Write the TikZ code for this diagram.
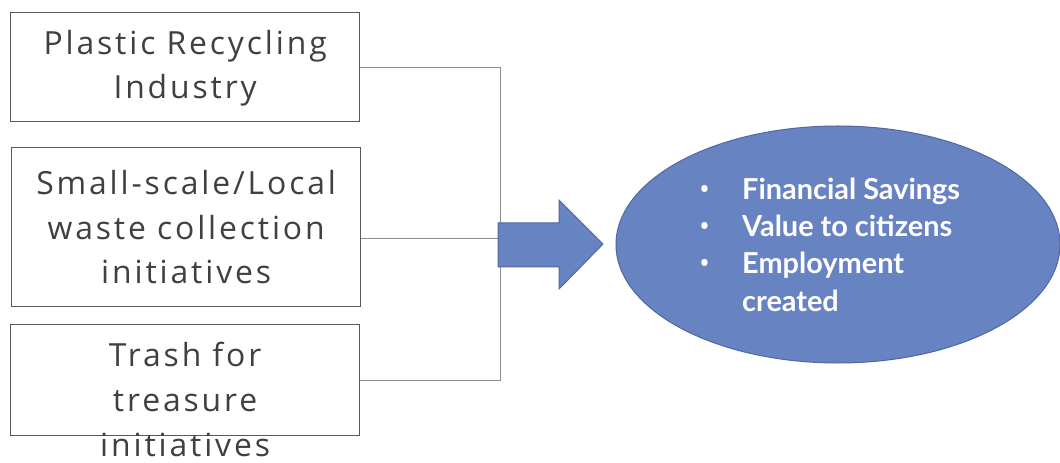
\documentclass[tikz,border=0pt]{standalone}
\usepackage{fontspec}
\setmainfont{Open Sans}
\newfontfamily\boxfont[LetterSpace=9]{Open Sans}
\newfontfamily\ovalfont{Lato}
\usepackage{tikz}
\usetikzlibrary{positioning,shapes.geometric}
\definecolor{boxgray}{HTML}{404040}
\definecolor{edgegray}{HTML}{595959}
\definecolor{linegray}{HTML}{8C8C8C}
\definecolor{ovalblue}{HTML}{6883C2}
\definecolor{ovaledge}{HTML}{4F67A2}

\begin{document}
\begin{tikzpicture}[x=1bp,y=-1bp,
    srcbox/.style={draw=edgegray, line width=1.3bp, minimum width=349bp, inner sep=0, anchor=north west},
    srctext/.style={text=boxgray, font=\boxfont\fontsize{32}{45}\selectfont, align=center, inner sep=0},
    link/.style={draw=linegray, line width=1bp},
    oval/.style={ellipse, fill=ovalblue, draw=ovaledge, line width=1bp, minimum width=444bp, minimum height=237bp, inner sep=0},
    ovaltext/.style={text=white, font=\ovalfont\bfseries\fontsize{29}{37.5}\selectfont, align=left, inner sep=0, anchor=west}]
\useasboundingbox (0,0) rectangle (1060,463);

% source boxes
\node[srcbox, minimum height=109bp] (plastic) at (10,12) {};
\node[srcbox, minimum height=159bp] (local) at (11,147) {};
\node[srcbox, minimum height=111bp] (trash) at (10,324) {};

\node[srctext] (plastictxt) at ([yshift=-1bp]plastic.center) {Plastic Recycling\\Industry};
\node[srctext] (localtxt) at (local.center) {Small-scale/Local\\waste collection\\initiatives};
\node[srctext] (trashtxt) at ([yshift=-19bp]trash.center) {Trash for\\treasure\\initiatives};

% joining lines
\coordinate (spine) at (500,0);
\draw[link] (plastic.east) -- (plastic.east -| spine) -- (trash.east -| spine) -- (trash.east);
\draw[link] ([yshift=-11.5bp]local.east) -- ([yshift=-11.5bp]local.east -| spine);

% block arrow
\coordinate (tail) at (498,245);
\draw[fill=ovalblue, draw=ovaledge, line width=1bp]
  ([yshift=22bp]tail) -- ++(61,0) -- ++(0,-23) -- (603,244) -- ++(-44,45) -- ++(0,-22) -- ++(-61,0) -- cycle;

% outcome
\node[oval] (outcome) at (838,244.5) {};
\node[ovaltext] (outcometxt) at (699,244.5)
  {\makebox[43bp][l]{\normalfont\fontsize{29}{29}\selectfont •}Financial Savings\\
   \makebox[43bp][l]{\normalfont\fontsize{29}{29}\selectfont •}Value to citizens\\
   \makebox[43bp][l]{\normalfont\fontsize{29}{29}\selectfont •}Employment\\
   \makebox[43bp][l]{}created};
\end{tikzpicture}
\end{document}
